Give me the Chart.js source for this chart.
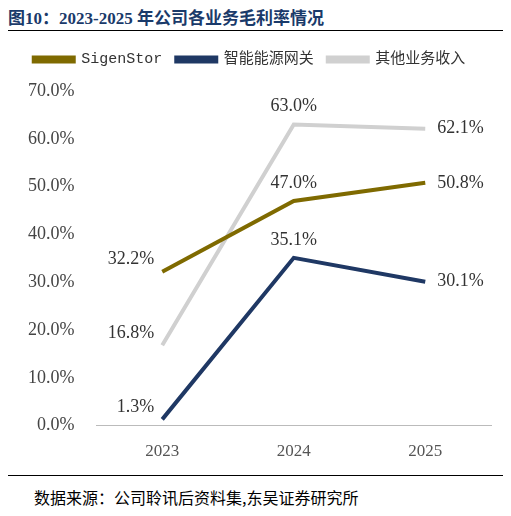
<!DOCTYPE html>
<html><head><meta charset="utf-8">
<script src="https://cdn.jsdelivr.net/npm/chart.js@4"></script>
<style>
body{margin:0;width:511px;height:516px;background:#fff;font-family:"Liberation Serif","Noto Sans CJK SC",serif;position:relative;overflow:hidden}
#title{position:absolute;left:8px;top:4px;font-size:17px;font-weight:bold;color:#1a3a6a;font-family:"Liberation Serif","Noto Sans CJK SC",serif}
#line1{position:absolute;left:8px;right:8px;top:30px;border-top:1px solid #000}
#line2{position:absolute;left:8px;right:8px;top:475px;border-top:1px solid #000}
#src{position:absolute;left:34px;top:485px;font-size:16px;color:#000;font-family:"Noto Sans CJK SC",sans-serif}
#wrap{position:absolute;left:0;top:38px;width:511px;height:432px}
</style></head><body>
<div id="title">图10：2023-2025 年公司各业务毛利率情况</div>
<div id="line1"></div>
<div id="wrap"><canvas id="c"></canvas></div>
<div id="line2"></div>
<div id="src">数据来源：公司聆讯后资料集,东吴证券研究所</div>
<script>
const years = ["2023", "2024", "2025"];
const sigenstor = [32.2, 47.0, 50.8];
const energy = [1.3, 35.1, 30.1];
const others = [16.8, 63.0, 62.1];
const yTicks = [0, 10, 20, 30, 40, 50, 60, 70];

const labelPlugin = {
  id: "pointLabels",
  afterDatasetsDraw(chart) {
    const ctx = chart.ctx;
    ctx.save();
    ctx.font = "18px 'Liberation Serif'";
    ctx.fillStyle = "#333";
    ctx.textBaseline = "middle";
    chart.data.datasets.forEach((ds, i) => {
      chart.getDatasetMeta(i).data.forEach((pt, j) => {
        const txt = ds.data[j].toFixed(1) + "%";
        if (j === 0) { ctx.textAlign = "right"; ctx.fillText(txt, pt.x - 8, pt.y - 12); }
        else if (j === 1) { ctx.textAlign = "center"; ctx.fillText(txt, pt.x, pt.y - 18); }
        else { ctx.textAlign = "left"; ctx.fillText(txt, pt.x + 12, pt.y); }
      });
    });
    ctx.restore();
  }
};

const legendGap = {
  id: "legendGap",
  beforeInit(chart) {
    const fit = chart.legend.fit;
    chart.legend.fit = function () { fit.bind(chart.legend)(); this.height += 14; };
  }
};

new Chart(document.getElementById("c"), {
  type: "line",
  data: {
    labels: years,
    datasets: [
      { label: "SigenStor", data: sigenstor, borderColor: "#7f6a00", backgroundColor: "#7f6a00" },
      { label: "智能能源网关", data: energy, borderColor: "#1f3864", backgroundColor: "#1f3864" },
      { label: "其他业务收入", data: others, borderColor: "#d0d0d0", backgroundColor: "#d0d0d0" }
    ]
  },
  options: {
    responsive: true,
    maintainAspectRatio: false,
    animation: false,
    elements: { line: { borderWidth: 4, tension: 0 }, point: { radius: 0 } },
    layout: { padding: { left: 8, right: 20, top: 0, bottom: 0 } },
    plugins: {
      legend: {
        labels: {
          boxWidth: 40, boxHeight: 4, padding: 14, color: "#333",
          font: { size: 15, family: "'Liberation Mono','Noto Sans CJK SC'" }
        }
      },
      tooltip: { enabled: false }
    },
    scales: {
      x: {
        offset: true,
        grid: { display: false },
        border: { color: "#bbb" },
        ticks: { color: "#555", font: { size: 17, family: "'Liberation Serif'" }, padding: 8 }
      },
      y: {
        min: 0, max: 70,
        afterBuildTicks: axis => { axis.ticks = yTicks.map(v => ({ value: v })); },
        afterFit: axis => { axis.width += 6; },
        grid: { display: false },
        border: { display: false },
        ticks: {
          color: "#444", padding: 14,
          font: { size: 18, family: "'Liberation Serif'" },
          callback: v => v.toFixed(1) + "%"
        }
      }
    }
  },
  plugins: [labelPlugin, legendGap]
});
</script>
</body></html>
